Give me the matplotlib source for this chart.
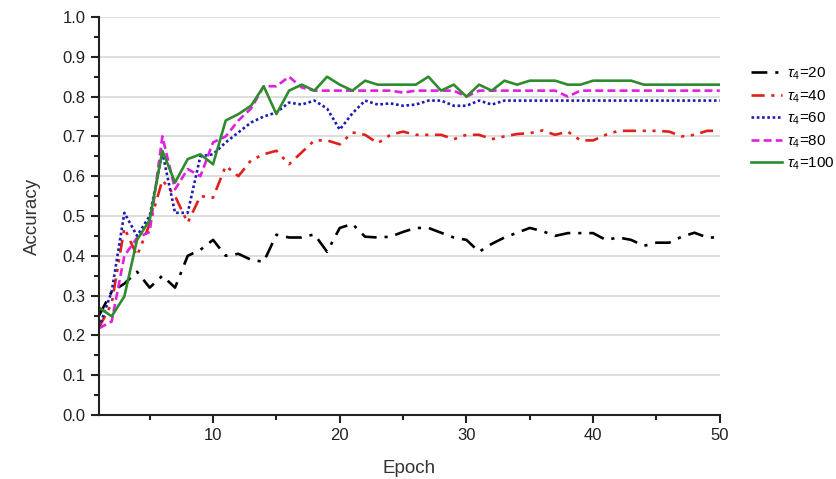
import matplotlib
matplotlib.use("Agg")
import matplotlib.pyplot as plt
import numpy as np

plt.rcParams['font.family'] = ['Liberation Sans', 'DejaVu Sans']
plt.rcParams['mathtext.fontset'] = 'custom'
plt.rcParams['mathtext.it'] = 'Liberation Sans:italic'
plt.rcParams['mathtext.rm'] = 'Liberation Sans'

epochs = list(range(1, 51))

acc_20 = [0.25, 0.31, 0.33, 0.36, 0.32, 0.35, 0.32, 0.40, 0.415, 0.44,
          0.40, 0.405, 0.39, 0.385, 0.453, 0.446, 0.446, 0.454, 0.41, 0.47,
          0.48, 0.448, 0.446, 0.448, 0.46, 0.47, 0.47, 0.458, 0.446, 0.44,
          0.41, 0.43, 0.446, 0.458, 0.47, 0.462, 0.45, 0.457, 0.457, 0.457,
          0.44, 0.446, 0.44, 0.425, 0.433, 0.433, 0.448, 0.458, 0.446, 0.446]

acc_40 = [0.22, 0.28, 0.47, 0.40, 0.48, 0.59, 0.55, 0.483, 0.55, 0.546,
          0.626, 0.60, 0.64, 0.655, 0.664, 0.63, 0.66, 0.69, 0.69, 0.68,
          0.71, 0.704, 0.683, 0.704, 0.712, 0.704, 0.704, 0.704, 0.693, 0.704,
          0.704, 0.693, 0.70, 0.706, 0.708, 0.715, 0.704, 0.712, 0.69, 0.69,
          0.704, 0.714, 0.714, 0.714, 0.714, 0.712, 0.70, 0.704, 0.714, 0.714]

acc_60 = [0.22, 0.31, 0.508, 0.45, 0.50, 0.66, 0.508, 0.508, 0.65, 0.655,
          0.685, 0.71, 0.735, 0.75, 0.76, 0.785, 0.78, 0.79, 0.77, 0.717,
          0.758, 0.79, 0.78, 0.783, 0.777, 0.78, 0.79, 0.79, 0.777, 0.777,
          0.79, 0.78, 0.79, 0.79, 0.79, 0.79, 0.79, 0.79, 0.79, 0.79,
          0.79, 0.79, 0.79, 0.79, 0.79, 0.79, 0.79, 0.79, 0.79, 0.79]

acc_80 = [0.218, 0.235, 0.40, 0.445, 0.46, 0.70, 0.567, 0.618, 0.60, 0.685,
          0.70, 0.74, 0.77, 0.826, 0.826, 0.85, 0.823, 0.815, 0.815, 0.815,
          0.815, 0.815, 0.815, 0.815, 0.81, 0.815, 0.815, 0.815, 0.815, 0.80,
          0.815, 0.815, 0.815, 0.815, 0.815, 0.815, 0.815, 0.80, 0.815, 0.815,
          0.815, 0.815, 0.815, 0.815, 0.815, 0.815, 0.815, 0.815, 0.815, 0.815]

acc_100 = [0.27, 0.248, 0.298, 0.44, 0.49, 0.664, 0.584, 0.643, 0.655, 0.63,
           0.74, 0.756, 0.777, 0.826, 0.756, 0.815, 0.83, 0.815, 0.85, 0.83,
           0.815, 0.84, 0.83, 0.83, 0.83, 0.83, 0.85, 0.815, 0.83, 0.80,
           0.83, 0.815, 0.84, 0.83, 0.84, 0.84, 0.84, 0.83, 0.83, 0.84,
           0.84, 0.84, 0.84, 0.83, 0.83, 0.83, 0.83, 0.83, 0.83, 0.83]

labels = [r'$\tau_4$=20', r'$\tau_4$=40', r'$\tau_4$=60', r'$\tau_4$=80', r'$\tau_4$=100']

fig = plt.figure(figsize=(8.37, 4.79), dpi=100)
ax = fig.add_axes([0.1183, 0.1336, 0.860 - 0.1183, 0.9645 - 0.1336])

ax.plot(epochs, acc_20, color='black', lw=1.9, linestyle=(0, (6, 3, 1.2, 3)), label=labels[0])
ax.plot(epochs, acc_40, color='#e0201b', lw=1.9, linestyle=(0, (5, 2.5, 1.2, 2.5, 1.2, 2.5)), label=labels[1])
ax.plot(epochs, acc_60, color='#1c1cb0', lw=1.9, linestyle=(0, (1, 1)), label=labels[2])
ax.plot(epochs, acc_80, color='#e020e0', lw=1.9, linestyle=(0, (3, 1.6)), label=labels[3])
ax.plot(epochs, acc_100, color='#2e8b2e', lw=1.9, linestyle='-', label=labels[4])

ax.set_xlim(1, 50)
ax.set_ylim(0, 1.0)
ax.set_xticks([10, 20, 30, 40, 50])
ax.set_xticks([5, 15, 25, 35, 45], minor=True)
ax.set_yticks(np.arange(0, 1.01, 0.1))
ax.set_yticks(np.arange(0.05, 1.0, 0.1), minor=True)
ax.yaxis.set_major_formatter(matplotlib.ticker.FormatStrFormatter('%.1f'))
ax.grid(axis='y', color='#d8d8d8', lw=1.2)
ax.set_axisbelow(True)
for s in ['top', 'right']:
    ax.spines[s].set_visible(False)
for s in ['left', 'bottom']:
    ax.spines[s].set_linewidth(1.5)
    ax.spines[s].set_color('#222222')
ax.tick_params(which='major', direction='out', length=6, width=1.5, labelsize=12, colors='#222222')
ax.tick_params(which='minor', direction='out', length=3.5, width=1.5, colors='#222222')
ax.set_xlabel('Epoch', fontsize=13.5, color='#333333', labelpad=12)
ax.set_ylabel('Accuracy', fontsize=13.5, color='#333333', labelpad=16)

leg = fig.legend(loc='upper left', bbox_to_anchor=(0.885, 0.885), frameon=False,
                 fontsize=11, handlelength=2.0, labelspacing=0.4, handletextpad=0.35,
                 borderpad=0.2)

fig.savefig('out.png', dpi=100)
